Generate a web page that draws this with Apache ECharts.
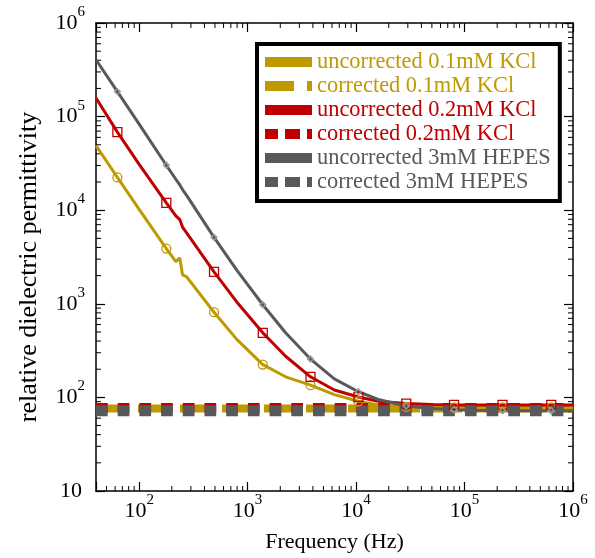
<!DOCTYPE html>
<html><head><meta charset="utf-8">
<script src="https://cdn.jsdelivr.net/npm/echarts@6/dist/echarts.min.js"></script>
<style>html,body{margin:0;padding:0;background:#fff}#c{width:595px;height:558px}</style>
</head><body><div id="c"></div>
<script>
// ---- data ----
const freq = [40, 63, 100, 178, 218, 237, 251, 273, 490, 794, 1380, 2240, 3800, 6300, 10500, 16000, 29000, 50000, 80000, 126000, 224000, 400000, 630000, 1000000];
const uncorr01KCl = [49100, 22400, 10200, 3890, 2820, 3090, 2040, 1950, 813, 417, 224, 166, 135, 107, 91, 83, 79, 78, 78, 78, 78, 78, 78, 78];
const corr01KCl   = [76, 76, 76, 76, 76, 76, 76, 76, 76, 76, 76, 76, 76, 76, 76, 76, 76, 76, 76, 76, 76, 76, 76, 76];
const uncorr02KCl = [157800, 68200, 30900, 12000, 8710, 7940, 6610, 5750, 2190, 1047, 490, 275, 166, 120, 101, 91, 86, 84, 83, 83, 83, 83, 83, 83];
const corr02KCl   = [77, 77, 77, 77, 77, 77, 77, 77, 77, 77, 77, 77, 77, 77, 77, 77, 77, 77, 77, 77, 77, 77, 77, 77];
const uncorrHEPES = [405000, 185000, 83200, 30200, 21400, 18600, 16600, 14500, 5130, 2290, 977, 490, 257, 158, 115, 95, 81, 76, 74, 73, 72, 72, 72, 72];
const corrHEPES   = [72, 72, 72, 72, 72, 72, 72, 72, 72, 72, 72, 72, 72, 72, 72, 72, 72, 72, 72, 72, 72, 72, 72, 72];
const markerFreqs = [63, 178, 490, 1380, 3800, 10500, 29000, 80000, 224000, 630000];
const seriesNames = ['uncorrected 0.1mM KCl', 'corrected 0.1mM KCl', 'uncorrected 0.2mM KCl', 'corrected 0.2mM KCl', 'uncorrected 3mM HEPES', 'corrected 3mM HEPES'];
const xMin = 40, xMax = 1e6, yMin = 10, yMax = 1e6;

// ---- styling ----
const YEL = '#BE9A00', RED = '#C00000', GRY = '#58595B';
const FONT = 'Liberation Serif';

function pts(vals) { return freq.map((f, i) => [f, vals[i]]); }
function fmtPow(v) {
  const l = Math.log10(v), e = Math.round(l);
  if (Math.abs(l - e) > 1e-6) return '';
  if (e === 1) return '{b2|10}';
  return '{b|10}{s|' + e + '}';
}
const rich = {
  b: {fontFamily: FONT, fontSize: 22, color: '#000'},
  b2: {fontFamily: FONT, fontSize: 22, color: '#000', padding: [0, 3, 0, 0]},
  s: {fontFamily: FONT, fontSize: 15, color: '#000', padding: [0, 0, 22, 0]}
};

const minorX = [];
for (let e = 1; e <= 5; e++) for (let m = 2; m <= 9; m++) { const v = m * Math.pow(10, e); if (v > xMin && v < xMax) minorX.push(v); }
const minorY = [];
for (let e = 1; e <= 5; e++) for (let m = 2; m <= 9; m++) minorY.push(m * Math.pow(10, e));

function uncorr(name, vals, color, sym, symSize, symBorder) {
  return {
    name, type: 'line', data: pts(vals), smooth: false,
    lineStyle: {color, width: 3},
    itemStyle: {color: 'rgba(0,0,0,0)', borderColor: symBorder || color, borderWidth: 1.3},
    showSymbol: true, showAllSymbol: true,
    symbol: (v) => markerFreqs.indexOf(v[0]) >= 0 ? sym : 'none',
    symbolSize: symSize, clip: true, silent: true
  };
}
function corr(name, vals, color, width, dash, offset) {
  return {
    name, type: 'line', data: pts(vals), symbol: 'none', showSymbol: false,
    lineStyle: {color, width, type: dash, dashOffset: offset || 0, cap: 'butt'},
    itemStyle: {color}, clip: true, silent: true
  };
}

const axisCommon = {
  axisLine: {show: true, onZero: false, lineStyle: {color: '#000', width: 1.5}},
  axisTick: {show: true, inside: true, length: 9, lineStyle: {color: '#000', width: 1.2}},
  splitLine: {show: false}, minorTick: {show: false}
};
const legIcon = (color) => ({color, borderWidth: 0, borderColor: color});

const chart = echarts.init(document.getElementById('c'), null, {renderer: 'canvas'});
chart.setOption({
  animation: false,
  backgroundColor: '#fff',
  grid: {left: 96, right: 22, top: 23, bottom: 67},
  xAxis: [
    Object.assign({type: 'log', logBase: 10, min: xMin, max: xMax, position: 'bottom',
      name: 'Frequency (Hz)', nameLocation: 'middle', nameGap: 40,
      nameTextStyle: {fontFamily: FONT, fontSize: 22, color: '#000'},
      axisLabel: {show: true, margin: 2, formatter: fmtPow, rich, showMinLabel: true}}, axisCommon),
    Object.assign({type: 'log', logBase: 10, min: xMin, max: xMax, position: 'top', axisLabel: {show: false}}, axisCommon)
  ],
  yAxis: [
    Object.assign({type: 'log', logBase: 10, min: yMin, max: yMax, position: 'left',
      name: 'relative dielectric permittivity', nameLocation: 'middle', nameGap: 54,
      nameTextStyle: {fontFamily: FONT, fontSize: 26, color: '#000', padding: [0, 20, 0, 0]},
      axisLabel: {show: true, margin: 11, formatter: fmtPow, rich}}, axisCommon),
    Object.assign({type: 'log', logBase: 10, min: yMin, max: yMax, position: 'right', axisLabel: {show: false}}, axisCommon)
  ],
  legend: {
    orient: 'vertical', left: 257, top: 44,
    padding: [7, 9, 8, 8],
    itemWidth: 47, itemHeight: 10, itemGap: 2,
    borderColor: '#000', borderWidth: 4, backgroundColor: '#fff',
    selectedMode: false,
    textStyle: {fontFamily: FONT, fontSize: 22.4, lineHeight: 22},
    data: [
      {name: seriesNames[0], icon: 'path://M0,0H47V10H0Z', itemStyle: legIcon(YEL), textStyle: {color: YEL}},
      {name: seriesNames[1], icon: 'path://M0,0H29V10H0ZM42,0H47V10H42Z', itemStyle: legIcon(YEL), textStyle: {color: YEL}},
      {name: seriesNames[2], icon: 'path://M0,0H47V10H0Z', itemStyle: legIcon(RED), textStyle: {color: RED}},
      {name: seriesNames[3], icon: 'path://M0,0H13V10H0ZM20,0H35V10H20ZM42,0H47V10H42Z', itemStyle: legIcon(RED), textStyle: {color: RED}},
      {name: seriesNames[4], icon: 'path://M0,0H47V10H0Z', itemStyle: legIcon(GRY), textStyle: {color: GRY}},
      {name: seriesNames[5], icon: 'path://M0,0H13V10H0ZM20,0H35V10H20ZM42,0H47V10H42Z', itemStyle: legIcon(GRY), textStyle: {color: GRY}}
    ]
  },
  series: [
    corr(seriesNames[1], corr01KCl, YEL, 8, [30, 12], 0),
    uncorr(seriesNames[0], uncorr01KCl, YEL, 'circle', 9),
    corr(seriesNames[3], corr02KCl, RED, 10, [11.7, 10], 0),
    uncorr(seriesNames[2], uncorr02KCl, RED, 'rect', 9),
    corr(seriesNames[5], corrHEPES, GRY, 11, [11.7, 10], 0),
    uncorr(seriesNames[4], uncorrHEPES, GRY, 'diamond', 6, '#9a9a9a'),
    {
      type: 'custom', silent: true, clip: false, data: minorX.map(v => [v, yMin]),
      encode: {x: 0, y: 1},
      renderItem: (params, api) => {
        const b = api.coord([api.value(0), yMin]), t = api.coord([api.value(0), yMax]);
        const st = {stroke: '#000', lineWidth: 1};
        return {type: 'group', children: [
          {type: 'line', shape: {x1: b[0], y1: b[1], x2: b[0], y2: b[1] - 5}, style: st},
          {type: 'line', shape: {x1: t[0], y1: t[1], x2: t[0], y2: t[1] + 5}, style: st}
        ]};
      }
    },
    {
      type: 'custom', silent: true, clip: false, data: minorY.map(v => [xMin, v]),
      encode: {x: 0, y: 1},
      renderItem: (params, api) => {
        const l = api.coord([xMin, api.value(1)]), r = api.coord([xMax, api.value(1)]);
        const st = {stroke: '#000', lineWidth: 1};
        return {type: 'group', children: [
          {type: 'line', shape: {x1: l[0], y1: l[1], x2: l[0] + 5, y2: l[1]}, style: st},
          {type: 'line', shape: {x1: r[0], y1: r[1], x2: r[0] - 5, y2: r[1]}, style: st}
        ]};
      }
    }
  ]
});
</script></body></html>
